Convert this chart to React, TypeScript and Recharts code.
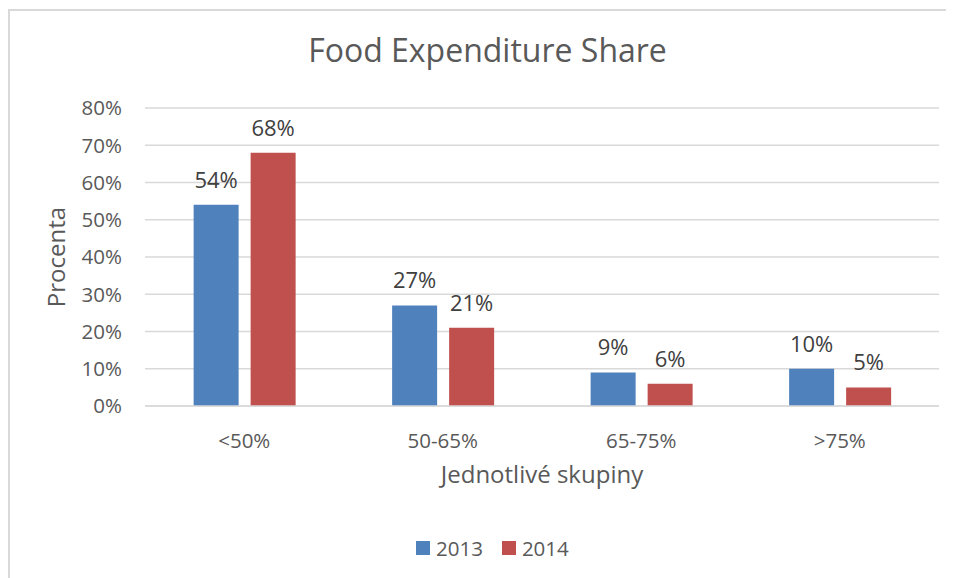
import React from 'react';
import { BarChart, Bar, XAxis, YAxis, CartesianGrid, Legend, LabelList, Label } from 'recharts';

const categories = ['<50%', '50-65%', '65-75%', '>75%'];
const values2013 = [54, 27, 9, 10];
const values2014 = [68, 21, 6, 5];
const yTicks = [0, 10, 20, 30, 40, 50, 60, 70, 80];
const seriesNames = ['2013', '2014'];
const seriesColors = ['#4F81BD', '#C0504D'];

const data = categories.map((c, i) => ({ name: c, y2013: values2013[i], y2014: values2014[i] }));

const FONT = '"Open Sans", sans-serif';

const LegendContent = () => (
  <div style={{ display: 'flex', alignItems: 'center', height: 30, paddingLeft: 408, fontFamily: FONT, fontSize: 20.5, color: '#595959' }}>
    {seriesNames.map((n, i) => (
      <div key={n} style={{ display: 'flex', alignItems: 'center', marginRight: 19 }}>
        <div style={{ width: 14, height: 14, background: seriesColors[i], marginRight: 6 }} />
        <span>{n}</span>
      </div>
    ))}
  </div>
);

export default function App() {
  return (
    <div style={{ position: 'relative', width: 946, height: 570, overflow: 'hidden', fontFamily: FONT }}>
      <div style={{ position: 'absolute', left: 0, top: 1, width: 1200, height: 1200, border: '2px solid #d9d9d9', boxSizing: 'border-box' }} />
      <div style={{ position: 'absolute', left: 0, width: 959, top: 26, textAlign: 'center', fontSize: 32, lineHeight: '32px', color: '#595959' }}>
        Food Expenditure Share
      </div>
      <BarChart width={946} height={570} data={data} margin={{ top: 100, right: 15, bottom: 82, left: 0 }} barGap={12} barCategoryGap="24.5%">
        <CartesianGrid vertical={false} stroke="#d9d9d9" strokeWidth={1.3} />
        <XAxis dataKey="name" height={60} tickLine={false} axisLine={{ stroke: '#d9d9d9', strokeWidth: 1.3 }} tickSize={6} tickMargin={21} tick={{ fill: '#595959', fontSize: 20.5, fontFamily: FONT }}>
          <Label content={() => (
            <text x={534} y={475} textAnchor="middle" fill="#595959" fontSize={24} fontFamily={FONT}>Jednotlivé skupiny</text>
          )} />
        </XAxis>
        <YAxis width={137} domain={[0, 80]} ticks={yTicks} tickFormatter={(v: number) => `${v}%`} axisLine={false} tickLine={false} tickSize={6} tickMargin={17} tick={{ fill: '#595959', fontSize: 20.5, fontFamily: FONT }} interval={0}>
          <Label content={() => (
            <text x={57} y={249} transform="rotate(-90 57 249)" textAnchor="middle" fill="#595959" fontSize={24} fontFamily={FONT}>Procenta</text>
          )} />
        </YAxis>
        <Legend verticalAlign="bottom" content={() => <LegendContent />} wrapperStyle={{ top: 525, left: 0, width: 946, bottom: 'auto' }} />
        <Bar dataKey="y2013" name="2013" fill={seriesColors[0]} isAnimationActive={false}>
          <LabelList dataKey="y2013" position="top" offset={17} formatter={(v: number) => `${v}%`} fill="#404040" fontSize={22} fontFamily={FONT} />
        </Bar>
        <Bar dataKey="y2014" name="2014" fill={seriesColors[1]} isAnimationActive={false}>
          <LabelList dataKey="y2014" position="top" offset={17} formatter={(v: number) => `${v}%`} fill="#404040" fontSize={22} fontFamily={FONT} />
        </Bar>
      </BarChart>
    </div>
  );
}
